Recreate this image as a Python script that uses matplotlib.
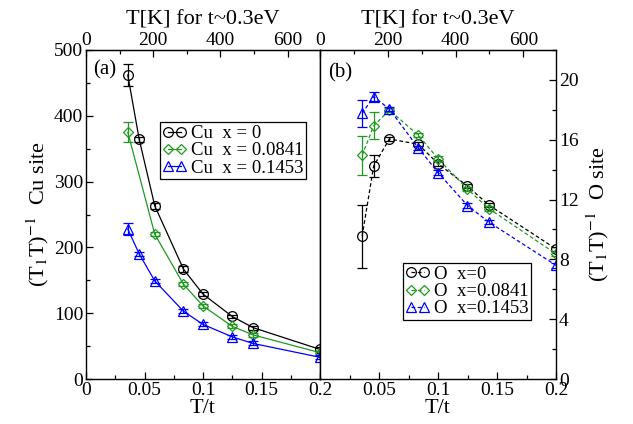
import matplotlib
matplotlib.use("Agg")
import matplotlib.pyplot as plt
from matplotlib.ticker import MultipleLocator

plt.rcParams['font.family'] = ['Liberation Serif', 'DejaVu Serif']
plt.rcParams['mathtext.fontset'] = 'stix'

# T/t values (beta t = 28, 22, 17, 12, 10, 8, 7, 5)
Tt = [0.0357, 0.0455, 0.0588, 0.0833, 0.1, 0.125, 0.1429, 0.2]
Tt_no2 = [0.0357, 0.0588, 0.0833, 0.1, 0.125, 0.1429, 0.2]

# Cu site
cu_x0 = [462, 364, 263, 167, 129, 95, 78, 45]
cu_x0_err = [16, 4, 4, 4, 3, 3, 3, 3]
cu_x1 = [375, 220, 144, 111, 80, 67, 40]
cu_x1_err = [15, 3, 3, 3, 3, 3, 3]
cu_x2 = [228, 190, 149, 103, 83, 64, 54, 33]
cu_x2_err = [9, 3, 3, 3, 3, 3, 3, 3]

# O site
o_x0 = [9.55, 14.24, 16.05, 15.7, 14.4, 12.9, 11.64, 8.7]
o_x0_err = [2.1, 0.75, 0.15, 0.15, 0.15, 0.15, 0.15, 0.15]
o_x1 = [14.95, 16.93, 17.98, 16.3, 14.73, 12.7, 11.4, 8.37]
o_x1_err = [1.3, 0.9, 0.15, 0.15, 0.15, 0.15, 0.15, 0.15]
o_x2 = [17.76, 18.88, 18.05, 15.45, 13.8, 11.6, 10.5, 7.6]
o_x2_err = [0.9, 0.3, 0.15, 0.15, 0.15, 0.15, 0.15, 0.15]

green = '#1f9a1f'
K_per_t = 0.3 / 8.617e-5   # T[K] per unit T/t

fig = plt.figure(figsize=(6.33, 4.24), dpi=100)
axL = fig.add_axes([86/633, 45/424, 234/633, 329/424])
axR = fig.add_axes([320/633, 45/424, 236/633, 329/424])

ms = 7
mew = 0.9
lw = 0.9
tfs = 14   # tick labels
lfs = 16   # axis labels

def draw(ax, x, y, err, color, marker, label, ls, msize):
    ax.plot(x, y, ls=ls, color=color, lw=lw, marker=marker, ms=msize,
            mfc='none', mec=color, mew=mew, label=label)
    ax.errorbar(x, y, yerr=err, fmt='none', ecolor=color, elinewidth=lw,
                capsize=3.5, capthick=lw)

draw(axL, Tt, cu_x0, cu_x0_err, 'black', 'o', 'Cu  x = 0', '-', ms)
draw(axL, Tt_no2, cu_x1, cu_x1_err, green, 'D', 'Cu  x = 0.0841', '-', 5.5)
draw(axL, Tt, cu_x2, cu_x2_err, 'blue', '^', 'Cu  x = 0.1453', '-', ms)

draw(axR, Tt, o_x0, o_x0_err, 'black', 'o', 'O  x=0', (0, (3, 2)), ms)
draw(axR, Tt, o_x1, o_x1_err, green, 'D', 'O  x=0.0841', (0, (3, 2)), 5.5)
draw(axR, Tt, o_x2, o_x2_err, 'blue', '^', 'O  x=0.1453', (0, (3, 2)), ms)

for ax in (axL, axR):
    ax.set_xlim(0, 0.2)
    ax.xaxis.set_major_locator(MultipleLocator(0.05))
    ax.xaxis.set_minor_locator(MultipleLocator(0.025))
    ax.tick_params(which='both', direction='in', labelsize=tfs, width=0.9, pad=2)
    ax.tick_params(which='major', length=5)
    ax.tick_params(which='minor', length=3)
    ax.set_xlabel('T/t', fontsize=lfs, labelpad=0)
    for s in ax.spines.values():
        s.set_linewidth(1.0)
    sec = ax.secondary_xaxis('top', functions=(lambda v: v * K_per_t,
                                               lambda v: v / K_per_t))
    sec.set_xticks([0, 200, 400, 600])
    sec.xaxis.set_minor_locator(MultipleLocator(100))
    sec.tick_params(which='both', direction='in', labelsize=tfs, width=0.9, pad=1)
    sec.tick_params(which='major', length=5)
    sec.tick_params(which='minor', length=3)
    sec.set_xlabel('T[K] for t~0.3eV', fontsize=lfs, labelpad=5)

axL.set_xticks([0, 0.05, 0.1, 0.15, 0.2])
axL.set_xticklabels(['0', '0.05', '0.1', '0.15', '0.2'])
axR.set_xticks([0.05, 0.1, 0.15, 0.2])
axR.set_xticklabels(['0.05', '0.1', '0.15', '0.2'])

axL.set_ylim(0, 500)
axL.yaxis.set_major_locator(MultipleLocator(100))
axL.yaxis.set_minor_locator(MultipleLocator(50))
axL.tick_params(axis='y', which='both', left=True, right=False)
axL.set_ylabel(r'(T$_1$T)$^{-1}$  Cu site', fontsize=lfs, labelpad=2)

axR.set_ylim(0, 22)
axR.yaxis.set_major_locator(MultipleLocator(4))
axR.yaxis.set_minor_locator(MultipleLocator(2))
axR.yaxis.tick_right()
axR.yaxis.set_label_position('right')
axR.tick_params(axis='y', which='both', left=False, right=True)
axR.set_ylabel(r'(T$_1$T)$^{-1}$  O site', fontsize=lfs, labelpad=4)

axL.text(0.03, 0.94, '(a)', transform=axL.transAxes, fontsize=15, va='center')
axR.text(0.035, 0.93, '(b)', transform=axR.transAxes, fontsize=15, va='center')

legL = axL.legend(loc='upper right', bbox_to_anchor=(0.94, 0.78), fontsize=13.5,
                  numpoints=2, handlelength=1.3, handletextpad=0.2,
                  labelspacing=0.0, borderpad=0.15, borderaxespad=0,
                  fancybox=False, edgecolor='black', framealpha=1)
legL.get_frame().set_linewidth(0.9)
legR = axR.legend(loc='lower right', bbox_to_anchor=(0.894, 0.179), fontsize=13.5,
                  numpoints=2, handlelength=1.3, handletextpad=0.2,
                  labelspacing=0.0, borderpad=0.15, borderaxespad=0,
                  fancybox=False, edgecolor='black', framealpha=1)
legR.get_frame().set_linewidth(0.9)

fig.savefig('out.png', dpi=100)
